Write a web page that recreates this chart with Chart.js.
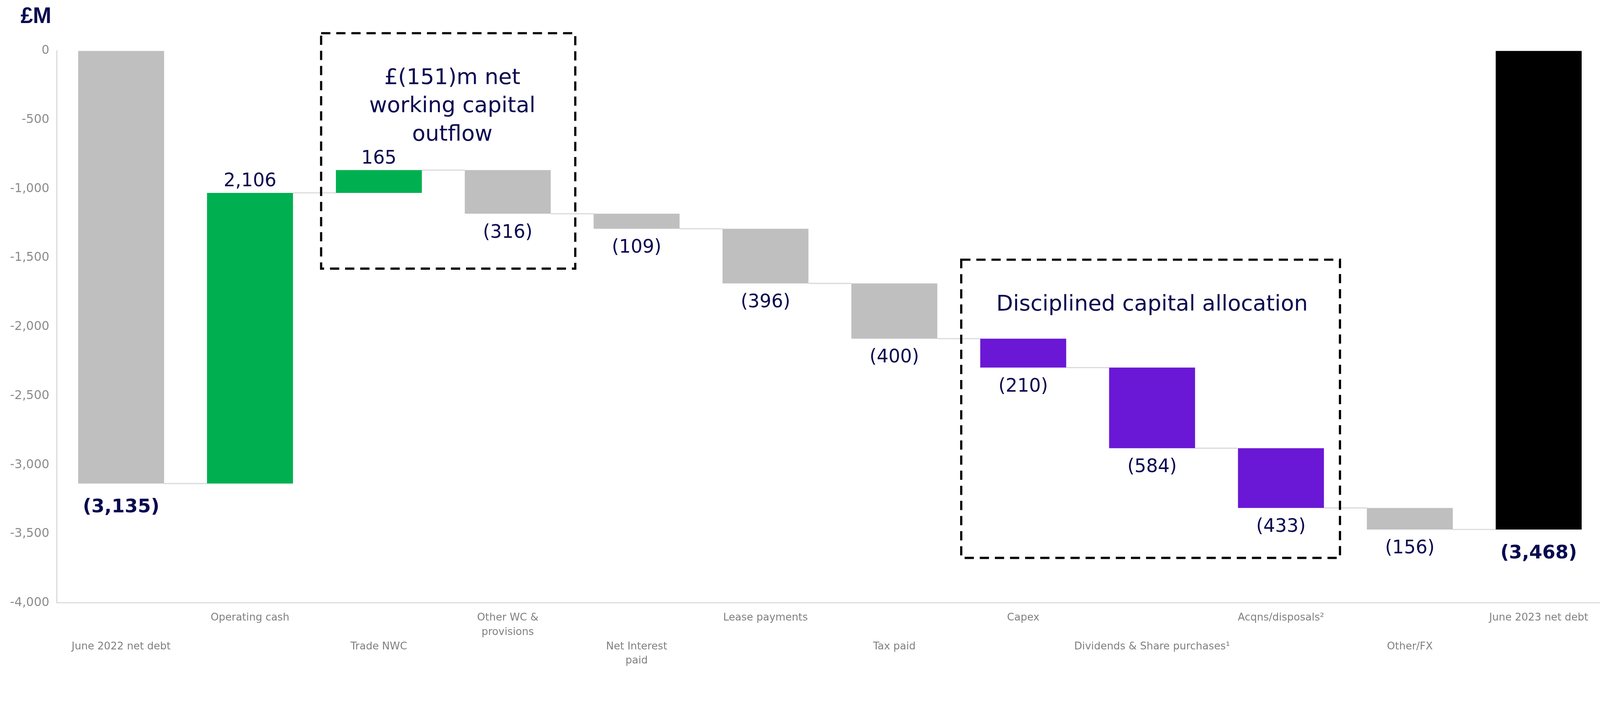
<!DOCTYPE html>
<html>
<head>
<meta charset="utf-8">
<script src="https://cdn.jsdelivr.net/npm/chart.js@4.4.1/dist/chart.umd.min.js"></script>
<style>
  html, body { margin: 0; padding: 0; background: #ffffff; overflow: hidden; }
  canvas { display: block; }
</style>
</head>
<body>
<canvas id="chart1"></canvas>
<script>

// waterfall data, £M
var categories = ['June 2022 net debt', 'Operating cash', 'Trade NWC', ['Other WC &', 'provisions'],
  ['Net Interest', 'paid'], 'Lease payments', 'Tax paid', 'Capex', 'Dividends & Share purchases¹',
  'Acqns/disposals²', 'Other/FX', 'June 2023 net debt'];
var movements = [-3135, 2106, 165, -316, -109, -396, -400, -210, -584, -433, -156, -3468];
var isTotal = [true, false, false, false, false, false, false, false, false, false, false, true];

var yMin = -4000;
var yMax = 0;
var yStep = 500;

var unitTitle = '£M';
var notes = [
  ['£(151)m net', 'working capital', 'outflow'],
  ['Disciplined capital allocation']
];

// styles
var navy = '#0a0a50';
var barColours = ['#bfbfbf', '#00b050', '#00b050', '#bfbfbf', '#bfbfbf', '#bfbfbf', '#bfbfbf',
  '#6a17d6', '#6a17d6', '#6a17d6', '#bfbfbf', '#000000'];

// where the dashed note boxes sit (category index / value units)
var noteBoxes = [
  {x0: 1.552, x1: 3.524, y0: 128, y1: -1578, tx: 2.57, baselines: [-240, -443, -649]},
  {x0: 6.519, x1: 9.458, y0: -1513, y1: -3674, tx: 8.0, baselines: [-1880]}
];

// sizes were measured on a 4339 x 1813 picture, scale them to the window width
var W = window.innerWidth;
var k = W / 4339;


function getRanges() {
  var ranges = new Array;
  var level = 0;
  for (var i = 0; i < movements.length; i++) {
    if (isTotal[i]) {
      ranges.push([0, movements[i]]);
      level = movements[i];
    }
    else {
      ranges.push([level, level + movements[i]]);
      level = level + movements[i];
    }
  }
  return ranges;
}

function fmt(v) {
  if (v < 0) {
    return '(' + Math.abs(v).toLocaleString('en-US') + ')';
  }
  return v.toLocaleString('en-US');
}

var ranges = getRanges();


const extras = {
  id: 'extras',

  beforeDatasetsDraw(chart) {
    var ctx = chart.ctx;
    var meta = chart.getDatasetMeta(0);
    var y = chart.scales.y;
    ctx.save();
    ctx.strokeStyle = '#d9d9d9';
    ctx.lineWidth = 3 * k;
    for (var i = 0; i < meta.data.length - 1; i++) {
      var a = meta.data[i];
      var b = meta.data[i + 1];
      var py = y.getPixelForValue(ranges[i][1]);
      ctx.beginPath();
      ctx.moveTo(a.x + a.width / 2, py);
      ctx.lineTo(b.x - b.width / 2, py);
      ctx.stroke();
    }
    ctx.restore();
  },

  afterDatasetsDraw(chart) {
    var ctx = chart.ctx;
    var meta = chart.getDatasetMeta(0);
    var xs = chart.scales.x;
    var ys = chart.scales.y;

    ctx.save();
    ctx.fillStyle = navy;
    ctx.textAlign = 'center';
    ctx.textBaseline = 'alphabetic';

    // value labels
    for (var i = 0; i < meta.data.length; i++) {
      var el = meta.data[i];
      var top = Math.min(el.y, el.base);
      var bottom = Math.max(el.y, el.base);
      if (isTotal[i]) {
        ctx.font = 'bold ' + (51 * k) + 'px "DejaVu Sans"';
      }
      else {
        ctx.font = (50 * k) + 'px "DejaVu Sans"';
      }
      if (movements[i] > 0) {
        ctx.fillText(fmt(movements[i]), el.x, top - 18 * k);
      }
      else {
        ctx.fillText(fmt(movements[i]), el.x, bottom + (isTotal[i] ? 78 : 65) * k);
      }
    }

    // dashed note boxes
    ctx.font = (59 * k) + 'px "DejaVu Sans"';
    for (var n = 0; n < noteBoxes.length; n++) {
      var bx = noteBoxes[n];
      var l = xs.getPixelForValue(bx.x0);
      var r = xs.getPixelForValue(bx.x1);
      var t = ys.getPixelForValue(bx.y0);
      var btm = ys.getPixelForValue(bx.y1);
      ctx.save();
      ctx.strokeStyle = '#000000';
      ctx.lineWidth = 6 * k;
      ctx.setLineDash([25 * k, 16 * k]);
      ctx.strokeRect(l, t, r - l, btm - t);
      ctx.restore();

      for (var m = 0; m < notes[n].length; m++) {
        ctx.fillText(notes[n][m], xs.getPixelForValue(bx.tx), ys.getPixelForValue(bx.baselines[m]));
      }
    }

    // unit title, top left
    ctx.textAlign = 'left';
    ctx.font = 'bold ' + (60 * k) + 'px "Liberation Sans"';
    ctx.fillText(unitTitle, 56 * k, 62 * k);
    ctx.restore();
  }
};


var canvas = document.getElementById('chart1');
// plot runs a few px past the right edge in the original
canvas.width = Math.round(W + 9 * k);
canvas.height = Math.round(1813 * k);

const chart1 = new Chart(canvas.getContext('2d'), {
  type: 'bar',
  data: {
    labels: categories,
    datasets: [
      {
        label: unitTitle,
        data: ranges,
        backgroundColor: barColours,
        borderWidth: 0,
        barPercentage: 0.667,
        categoryPercentage: 1
      }
    ]
  },
  options: {
    responsive: false,
    animation: false,
    layout: {
      padding: {left: 0, right: 0, top: 138 * k, bottom: 0}
    },
    plugins: {
      legend: {display: false},
      tooltip: {enabled: false},
      title: {display: false}
    },
    scales: {
      x: {
        grid: {display: false, drawTicks: false},
        border: {display: true, color: '#d9d9d9', width: 3 * k},
        ticks: {
          autoSkip: false,
          maxRotation: 0,
          minRotation: 0,
          color: '#808080',
          padding: 21 * k,
          font: {family: 'DejaVu Sans', size: 28 * k, lineHeight: (39 * k) + 'px'},
          callback: function(value, index) {
            var lab = categories[index];
            var lines = Array.isArray(lab) ? lab : [lab];
            // every other label drops down a row
            if (index % 2 == 0) {
              return ['', ''].concat(lines);
            }
            return lines;
          }
        },
        afterFit: function(scale) {
          scale.height = 177 * k;
        }
      },
      y: {
        min: yMin,
        max: yMax,
        grid: {display: false, drawTicks: false},
        border: {display: true, color: '#d9d9d9', width: 3 * k},
        ticks: {
          stepSize: yStep,
          color: '#8c8c8c',
          padding: 20 * k,
          font: {family: 'DejaVu Sans', size: 33 * k},
          callback: function(value) {
            return value.toLocaleString('en-US');
          }
        },
        afterFit: function(scale) {
          scale.width = 153.75 * k;
        }
      }
    }
  },
  plugins: [extras]
});

</script>
</body>
</html>
